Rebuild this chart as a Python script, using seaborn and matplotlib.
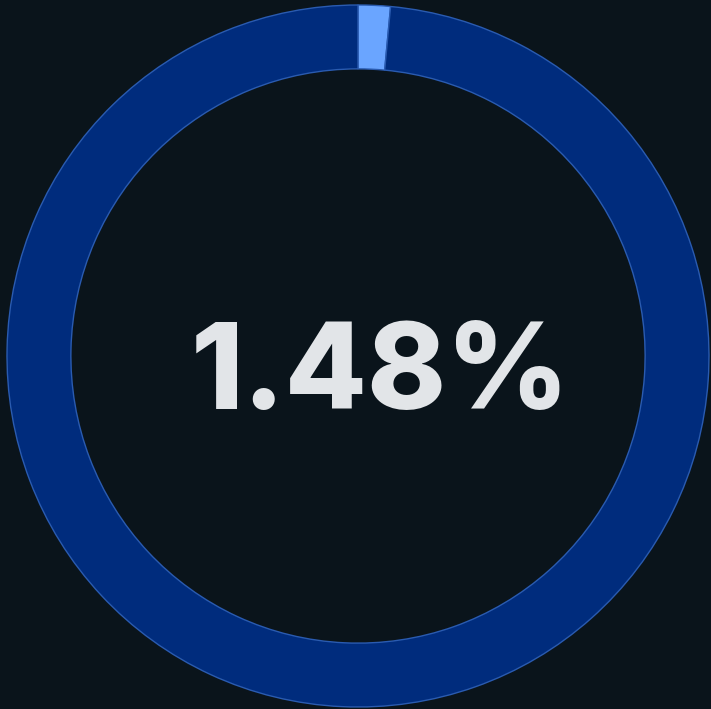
import matplotlib
matplotlib.use("Agg")
import matplotlib.pyplot as plt
import seaborn as sns

labels = ["Share", "Rest"]
values = [1.48, 98.52]
center_label = "1.48%"

sns.set_theme(style="white")
plt.rcParams['font.family'] = ['Inter', 'DejaVu Sans']

BG = "#0a141b"
W, H = 711, 709
fig = plt.figure(figsize=(W / 100, H / 100), dpi=100, facecolor=BG)
ax = fig.add_axes([0, 0, 1, 1])
ax.set_facecolor(BG)

cx, cy = 358, 356
R = 351
ax.pie(values, radius=R, startangle=90, counterclock=False,
       colors=["#6aa5ff", "#002c7d"],
       wedgeprops=dict(width=R * 0.182, edgecolor="#2a5bb0", linewidth=1.0))
ax.set_xlim(-cx, W - cx)
ax.set_ylim(-(H - cy), cy)
ax.set_aspect("auto")
ax.axis("off")

ax.text(380 - cx, cy - 409, center_label, ha="center", va="baseline",
        fontsize=86, fontweight="heavy", color="#e2e5e8")

fig.savefig("out.png", dpi=100, facecolor=BG)
